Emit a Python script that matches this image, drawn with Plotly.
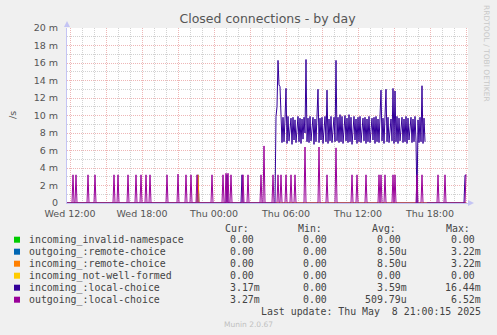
import plotly.graph_objects as go
import pandas as pd
import numpy as np

# ---------------- data ----------------
title = "Closed connections - by day"
y_unit_label = "/s"

x_tick_times = ["2025-05-07 12:00", "2025-05-07 15:00", "2025-05-07 18:00", "2025-05-07 21:00",
                "2025-05-08 00:00", "2025-05-08 03:00", "2025-05-08 06:00", "2025-05-08 09:00",
                "2025-05-08 12:00", "2025-05-08 15:00", "2025-05-08 18:00", "2025-05-08 21:00"]
x_tick_text = ["Wed 12:00", "", "Wed 18:00", "", "Thu 00:00", "", "Thu 06:00", "",
               "Thu 12:00", "", "Thu 18:00", ""]
y_tick_vals = [0, 2, 4, 6, 8, 10, 12, 14, 16, 18, 20]
y_tick_text = ["0", "2 m", "4 m", "6 m", "8 m", "10 m", "12 m", "14 m", "16 m", "18 m", "20 m"]

sample_start = "2025-05-07 11:45"
sample_end = "2025-05-08 21:00"

# outgoing_:local-choice events (values in milli / s)
out_local_times = ["2025-05-07 12:15", "2025-05-07 12:30", "2025-05-07 13:30", "2025-05-07 14:05",
                   "2025-05-07 15:40", "2025-05-07 16:00", "2025-05-07 16:50", "2025-05-07 17:30",
                   "2025-05-07 17:55", "2025-05-07 18:20", "2025-05-07 18:40", "2025-05-07 20:05",
                   "2025-05-07 21:00", "2025-05-07 21:40", "2025-05-07 22:05", "2025-05-07 22:35",
                   "2025-05-07 23:50", "2025-05-08 00:45", "2025-05-08 01:00", "2025-05-08 01:10",
                   "2025-05-08 01:25", "2025-05-08 02:25", "2025-05-08 02:50", "2025-05-08 03:55",
                   "2025-05-08 04:10", "2025-05-08 04:55", "2025-05-08 05:20", "2025-05-08 05:35",
                   "2025-05-08 06:00", "2025-05-08 06:25", "2025-05-08 06:45", "2025-05-08 07:35",
                   "2025-05-08 08:45", "2025-05-08 09:25", "2025-05-08 10:10", "2025-05-08 11:30",
                   "2025-05-08 11:55", "2025-05-08 12:40", "2025-05-08 13:45", "2025-05-08 13:55",
                   "2025-05-08 14:15", "2025-05-08 14:55", "2025-05-08 15:05", "2025-05-08 16:55",
                   "2025-05-08 17:20", "2025-05-08 18:40", "2025-05-08 19:15", "2025-05-08 21:00"]
out_local_vals = [3.22, 3.22, 3.22, 3.22,
                  3.22, 3.22, 3.22, 3.22,
                  3.22, 3.22, 3.22, 3.22,
                  3.3, 3.22, 3.22, 3.22,
                  3.22, 3.22, 3.4, 3.4,
                  3.22, 3.22, 3.22, 3.22,
                  6.52, 3.22, 3.22, 3.22,
                  3.22, 3.22, 3.22, 6.4,
                  6.4, 3.22, 6.3, 3.22,
                  3.22, 3.22, 3.22, 3.22,
                  3.22, 3.22, 3.22, 3.22,
                  3.22, 3.22, 3.22, 3.27]

# incoming_:local-choice
in_local_spike_times = ["2025-05-08 01:05", "2025-05-08 02:20", "2025-05-08 20:55", "2025-05-08 21:00"]
in_local_spike_vals = [3.22, 3.22, 3.17, 3.17]
in_local_block_start = "2025-05-08 05:05"
in_local_block_vals = [
    0.0, 9.9, 11.0, 16.3, 13.5, 13.3, 9.0, 6.9, 9.8, 7.0,
    9.6, 13.1, 6.8, 9.9, 7.1, 8.4, 9.7, 6.7, 9.8, 7.2,
    9.5, 6.9, 8.8, 9.9, 7.0, 9.7, 6.8, 9.6, 7.3, 9.8,
    8.0, 16.4, 7.0, 9.7, 6.9, 9.9, 7.1, 8.6, 9.8, 6.7,
    9.6, 7.0, 9.9, 13.0, 6.9, 9.7, 7.2, 9.8, 6.8, 8.3,
    9.9, 7.0, 12.9, 6.8, 9.6, 7.1, 9.9, 6.9, 8.7, 9.8,
    7.0, 16.3, 7.1, 9.8, 6.9, 10.1, 7.0, 9.9, 6.8, 8.5,
    10.0, 7.1, 9.7, 6.9, 10.1, 7.0, 9.8, 6.7, 8.9, 9.9,
    7.2, 9.6, 6.8, 9.8, 7.0, 9.9, 6.9, 8.2, 9.7, 7.1,
    9.8, 6.8, 9.6, 7.0, 9.9, 6.9, 8.6, 9.7, 7.2, 9.8,
    6.8, 9.9, 7.0, 9.6, 6.9, 9.8, 12.9, 7.1, 9.7, 6.8,
    9.9, 13.0, 7.0, 9.8, 6.9, 8.8, 9.6, 7.1, 13.1, 6.8,
    12.8, 7.0, 9.9, 6.8, 9.7, 7.1, 8.4, 9.8, 6.9, 9.6,
    7.0, 9.9, 6.8, 9.7, 7.2, 8.7, 9.8, 6.9, 9.6, 7.0,
    9.9, 7.1, 0.0, 9.5, 6.9, 9.8, 7.0, 13.4, 6.8, 9.7,
    7.0]
in_local_gap_times = ["2025-05-08 17:40"]

# :remote-choice (incoming and outgoing)
remote_times = ["2025-05-07 22:40"]
remote_vals = [3.22]

series_names = ["incoming_invalid-namespace", "outgoing_:remote-choice", "incoming_:remote-choice",
                "incoming_not-well-formed", "incoming_:local-choice", "outgoing_:local-choice"]
series_colors = ["#00cc00", "#0066b3", "#ff8000", "#ffcc00", "#330099", "#990099"]
cur_vals = ["0.00", "0.00", "0.00", "0.00", "3.17m", "3.27m"]
min_vals = ["0.00", "0.00", "0.00", "0.00", "0.00", "0.00"]
avg_vals = ["0.00", "8.50u", "8.50u", "0.00", "3.59m", "509.79u"]
max_vals = ["0.00", "3.22m", "3.22m", "0.00", "16.44m", "6.52m"]
last_update = "Last update: Thu May\u00a0\u00a08 21:00:15 2025"
munin_version = "Munin 2.0.67"
rrd_credit = "RRDTOOL / TOBI OETIKER"

# ---------------- build series ----------------
times = pd.date_range(sample_start, sample_end, freq="5min")
n = len(times)
idx = {t: i for i, t in enumerate(times)}


def zeros():
    return np.zeros(n)


s_invalid = zeros()
s_notwell = zeros()
s_out_remote = zeros()
s_in_remote = zeros()
for t, v in zip(remote_times, remote_vals):
    s_out_remote[idx[pd.Timestamp(t)]] = v
    s_in_remote[idx[pd.Timestamp(t)]] = v

s_out_local = zeros()
for t, v in zip(out_local_times, out_local_vals):
    s_out_local[idx[pd.Timestamp(t)]] = v

s_in_local = zeros()
for t, v in zip(in_local_spike_times, in_local_spike_vals):
    s_in_local[idx[pd.Timestamp(t)]] = v
b0 = idx[pd.Timestamp(in_local_block_start)]
for k, v in enumerate(in_local_block_vals):
    s_in_local[b0 + k] = v
for t in in_local_gap_times:
    s_in_local[idx[pd.Timestamp(t)]] = np.nan

series_data = [s_invalid, s_out_remote, s_in_remote, s_notwell, s_in_local, s_out_local]

# ---------------- figure ----------------
W, H = 497, 335
L, R, T, B = 67, 468, 28, 203


def pxx(x):
    return (x - L) / (R - L)


def pxy(y):
    return (B - y) / (B - T)


fig = go.Figure()
for name, col, data in zip(series_names, series_colors, series_data):
    fig.add_trace(go.Scatter(x=times, y=data, mode="lines", name=name,
                             line=dict(color=col, width=1), connectgaps=False,
                             showlegend=False, hoverinfo="skip"))

major_grid = "#eeb6b6"
minor_grid = "#d2d2d2"
axis_col = "#c4c4f4"
txt_col = "#555555"

fig.update_layout(
    width=W, height=H,
    margin=dict(l=L, r=W - R, t=T, b=H - B, pad=0),
    paper_bgcolor="#f0f0f0",
    plot_bgcolor="#ffffff",
    font=dict(family="DejaVu Sans", size=9.5, color=txt_col),
    title=dict(text=title, x=0.5, xref="paper", xanchor="center", y=1 - 19 / H, yanchor="middle",
               font=dict(family="DejaVu Sans", size=12.5, color="#555555")),
    showlegend=False,
)

fig.update_xaxes(
    type="date",
    range=["2025-05-07 11:45", "2025-05-08 21:10"],
    tickmode="array", tickvals=x_tick_times, ticktext=x_tick_text,
    showgrid=True, gridcolor=major_grid, griddash="1px,1px", gridwidth=1,
    minor=dict(tickmode="linear", tick0="2025-05-07 12:00", dtick=3600000,
               showgrid=True, gridcolor=minor_grid, griddash="1px,1px", gridwidth=1),
    showline=True, linecolor=axis_col, linewidth=1,
    zeroline=False, ticks="", ticklabelstandoff=2, tickfont=dict(size=9.5, color=txt_col),
    fixedrange=True,
)
fig.update_yaxes(
    range=[0, 20],
    tickmode="array", tickvals=y_tick_vals, ticktext=y_tick_text,
    showgrid=True, gridcolor=major_grid, griddash="1px,1px", gridwidth=1,
    minor=dict(tickmode="linear", tick0=0, dtick=1,
               showgrid=True, gridcolor=minor_grid, griddash="1px,1px", gridwidth=1),
    showline=True, linecolor=axis_col, linewidth=1,
    zeroline=False, ticks="", ticklabelstandoff=6, tickfont=dict(size=9.5, color=txt_col),
    fixedrange=True,
)

ann = []
shapes = []
# y unit label
ann.append(dict(text=y_unit_label, x=pxx(12), y=pxy(115), xref="paper", yref="paper",
                showarrow=False, textangle=-90, font=dict(size=9.5, color=txt_col),
                xanchor="center", yanchor="middle"))
# rrdtool credit
ann.append(dict(text=rrd_credit, x=pxx(487), y=pxy(53), xref="paper", yref="paper",
                showarrow=False, textangle=90, font=dict(size=7.5, color="#c8c8c8"),
                xanchor="center", yanchor="middle"))

# axis arrows
shapes.append(dict(type="path", xref="paper", yref="paper",
                   path=f"M {pxx(64)} {pxy(27)} L {pxx(70)} {pxy(27)} L {pxx(67)} {pxy(21)} Z",
                   fillcolor=axis_col, line=dict(width=0)))
shapes.append(dict(type="path", xref="paper", yref="paper",
                   path=f"M {pxx(468)} {pxy(200)} L {pxx(468)} {pxy(206)} L {pxx(474)} {pxy(203)} Z",
                   fillcolor=axis_col, line=dict(width=0)))

mono = "DejaVu Sans Mono"
cw = 5.96
col_ends = [262, 335.3, 409.3, 483.3]
headers = ["Cur:", "Min:", "Avg:", "Max:"]
legend_col = "#444444"
for ce, h in zip(col_ends, headers):
    ann.append(dict(text=h, x=pxx(ce - 2 * cw + 0.5), y=pxy(228.5), xref="paper", yref="paper",
                    showarrow=False, xanchor="right", yanchor="middle",
                    font=dict(family=mono, size=9.9, color=legend_col)))

row_y0 = 239.7
for r, (name, col) in enumerate(zip(series_names, series_colors)):
    yc = row_y0 + 12 * r
    shapes.append(dict(type="rect", xref="paper", yref="paper",
                       x0=pxx(14), x1=pxx(20), y0=pxy(yc - 3), y1=pxy(yc + 3),
                       fillcolor=col, line=dict(width=0)))
    ann.append(dict(text=name, x=pxx(26.5), y=pxy(yc), xref="paper", yref="paper",
                    showarrow=False, xanchor="left", yanchor="middle",
                    font=dict(family=mono, size=9.9, color=legend_col)))
    for ce, vals in zip(col_ends, [cur_vals, min_vals, avg_vals, max_vals]):
        v = vals[r]
        xr = ce if v[-1].isalpha() else ce - cw
        ann.append(dict(text=v, x=pxx(xr), y=pxy(yc), xref="paper", yref="paper",
                        showarrow=False, xanchor="right", yanchor="middle",
                        font=dict(family=mono, size=9.9, color=legend_col)))

ann.append(dict(text=last_update, x=pxx(482.5), y=pxy(311.7), xref="paper", yref="paper",
                showarrow=False, xanchor="right", yanchor="middle",
                font=dict(family=mono, size=9.9, color=legend_col)))
ann.append(dict(text=munin_version, x=pxx(248), y=pxy(324), xref="paper", yref="paper",
                showarrow=False, xanchor="center", yanchor="middle",
                font=dict(family="DejaVu Sans", size=7.5, color="#c0c0c0")))

fig.update_layout(annotations=ann, shapes=shapes)
fig.write_html("out.html")
